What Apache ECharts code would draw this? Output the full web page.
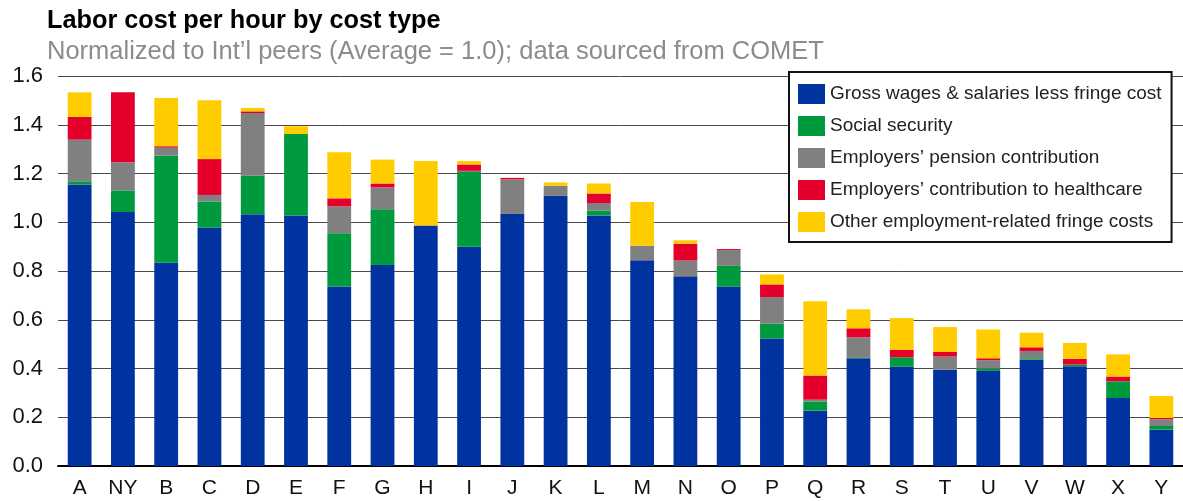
<!DOCTYPE html>
<html>
<head>
<meta charset="utf-8">
<script src="https://cdn.jsdelivr.net/npm/echarts@6/dist/echarts.min.js"></script>
<style>html,body{margin:0;padding:0;background:#fff;}#chart{width:1183px;height:501px;}</style>
</head>
<body>
<div id="chart"></div>
<script>
const categories = ['A','NY','B','C','D','E','F','G','H','I','J','K','L','M','N','O','P','Q','R','S','T','U','V','W','X','Y'];
const grossWages   = [1.155,1.042,0.834,0.978,1.033,1.028,0.736,0.825,0.987,0.899,1.034,1.108,1.028,0.844,0.778,0.736,0.523,0.227,0.442,0.408,0.395,0.390,0.436,0.409,0.279,0.149];
const socialSec    = [0.013,0.089,0.439,0.107,0.158,0.334,0.219,0.228,0,0.307,0,0,0.020,0,0,0.085,0.061,0.038,0.004,0.038,0,0.010,0.006,0.007,0.068,0.015];
const pension      = [0.171,0.115,0.033,0.027,0.257,0,0.110,0.090,0,0.005,0.142,0.041,0.031,0.060,0.065,0.065,0.109,0.007,0.082,0,0.054,0.034,0.030,0,0,0.028];
const healthcare   = [0.093,0.287,0.006,0.147,0.007,0,0.033,0.016,0,0.026,0.006,0,0.039,0,0.069,0.004,0.052,0.099,0.037,0.031,0.019,0.008,0.015,0.024,0.020,0.005];
const otherFringe  = [0.101,0,0.198,0.241,0.014,0.032,0.189,0.098,0.264,0.014,0,0.014,0.041,0.179,0.014,0,0.041,0.305,0.078,0.130,0.102,0.118,0.060,0.065,0.091,0.090];
const seriesNames = ['Gross wages & salaries less fringe cost','Social security','Employers\u2019 pension contribution','Employers\u2019 contribution to healthcare','Other employment-related fringe costs'];
const seriesColors = ['#0033a0','#009a3e','#808080','#e4002b','#ffcc00'];
const yTicks = [0,0.2,0.4,0.6,0.8,1.0,1.2,1.4,1.6];

const dataSets = [grossWages, socialSec, pension, healthcare, otherFringe];
const font = 'Arial, "Liberation Sans", sans-serif';
const chart = echarts.init(document.getElementById('chart'), null, {renderer:'canvas'});
chart.setOption({
  animation: false,
  backgroundColor: '#fff',
  title: [
    {text: 'Labor cost per hour by cost type', left: 42, top: 4,
     textStyle: {fontFamily: font, fontSize: 25.3, fontWeight: 'bold', color: '#000'}},
    {text: 'Normalized to Int\u2019l peers (Average = 1.0); data sourced from COMET', left: 42, top: 34,
     textStyle: {fontFamily: font, fontSize: 25.5, fontWeight: 'normal', color: '#8c8c8c'}}
  ],
  legend: {
    orient: 'vertical', left: 789, top: 72,
    padding: [12, 10, 10, 9], itemGap: 12, itemWidth: 27, itemHeight: 20,
    backgroundColor: '#fff', borderColor: '#111', borderWidth: 2, borderRadius: 0,
    icon: 'rect',
    textStyle: {fontFamily: font, fontSize: 19, color: '#222'},
    data: seriesNames
  },
  grid: {left: 58, right: 0, top: 76, bottom: 35, containLabel: false},
  xAxis: {
    type: 'category', data: categories,
    axisLine: {lineStyle: {color: '#000', width: 2}},
    axisTick: {show: false},
    axisLabel: {fontFamily: font, fontSize: 21, color: '#111', margin: 12}
  },
  yAxis: {
    type: 'value', min: yTicks[0], max: yTicks[yTicks.length-1], interval: 0.2,
    axisLine: {show: false}, axisTick: {show: false},
    splitLine: {lineStyle: {color: '#4a4a4a', width: 1}},
    axisLabel: {fontFamily: font, fontSize: 22, color: '#111', margin: 15,
      formatter: v => v.toFixed(1)}
  },
  series: seriesNames.map((n, i) => ({
    name: n, type: 'bar', stack: 'total', barWidth: '55%',
    itemStyle: {color: seriesColors[i]},
    data: dataSets[i]
  }))
});
</script>
</body>
</html>
